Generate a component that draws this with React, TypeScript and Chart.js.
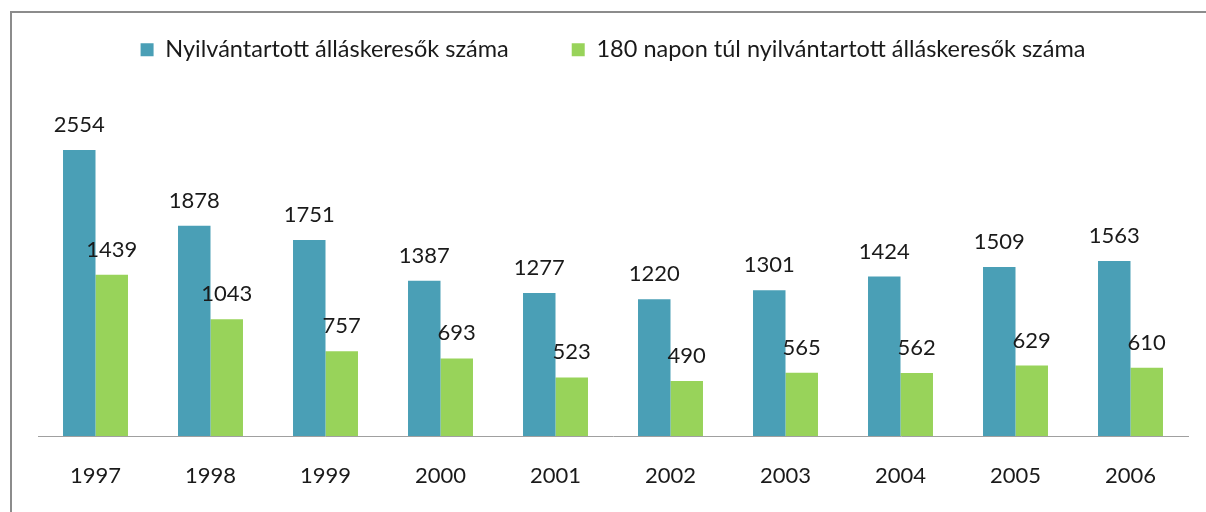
import React, { useEffect, useRef } from "react";
import { Chart, registerables } from "chart.js";

Chart.register(...registerables);

const categories = ["1997", "1998", "1999", "2000", "2001", "2002", "2003", "2004", "2005", "2006"];
const seriesNames = ["Nyilvántartott álláskeresők száma", "180 napon túl nyilvántartott álláskeresők száma"];
const registered = [2554, 1878, 1751, 1387, 1277, 1220, 1301, 1424, 1509, 1563];
const over180 = [1439, 1043, 757, 693, 523, 490, 565, 562, 629, 610];

const FONT = "Lato, 'Liberation Sans', sans-serif";

const valueLabels = {
  id: "valueLabels",
  afterDatasetsDraw(chart: any) {
    const ctx = chart.ctx;
    ctx.save();
    ctx.font = `22px ${FONT}`;
    ctx.fillStyle = "#1a1a1a";
    ctx.textAlign = "center";
    ctx.textBaseline = "alphabetic";
    chart.data.datasets.forEach((ds: any, i: number) => {
      const meta = chart.getDatasetMeta(i);
      meta.data.forEach((el: any, j: number) => {
        ctx.fillText(String(ds.data[j]), el.x, el.y - 18);
      });
    });
    ctx.restore();
  },
};

const legendSpacing = {
  id: "legendSpacing",
  beforeInit(chart: any) {
    const legend = chart.legend;
    if (!legend) return;
    const origFit = legend.fit;
    legend.fit = function () {
      origFit.bind(legend)();
      this.height = 125;
    };
  },
};

export default function App() {
  const ref = useRef<HTMLCanvasElement | null>(null);
  useEffect(() => {
    document.body.style.margin = "0";
    const chart = new Chart(ref.current!, {
      type: "bar",
      data: {
        labels: categories,
        datasets: [
          {
            label: seriesNames[0],
            data: registered,
            backgroundColor: "#4a9fb6",
            borderWidth: 0,
          },
          {
            label: seriesNames[1],
            data: over180,
            backgroundColor: "#98d35a",
            borderWidth: 0,
          },
        ],
      },
      options: {
        animation: false,
        responsive: false,
        layout: { padding: { left: 38, right: 18, top: -25, bottom: 26 } },
        datasets: {
          bar: { categoryPercentage: 0.565, barPercentage: 1 },
        },
        plugins: {
          legend: {
            position: "top",
            labels: {
              boxWidth: 13,
              boxHeight: 13,
              padding: 63,
              color: "#1a1a1a",
              font: { family: FONT, size: 23.5 },
            },
          },
          tooltip: { enabled: false },
        },
        scales: {
          x: {
            grid: { display: false, drawTicks: false },
            border: { display: true, color: "#a0a0a0", width: 1 },
            ticks: { color: "#1a1a1a", font: { family: FONT, size: 22 }, padding: 27 },
            afterFit(scale: any) {
              scale.height = 50;
            },
          },
          y: {
            display: false,
            min: 0,
            max: 3000,
          },
        },
      },
      plugins: [valueLabels, legendSpacing],
    });
    return () => chart.destroy();
  }, []);
  return (
    <div style={{ position: "relative", width: 1206, height: 512, overflow: "hidden", background: "#fff" }}>
      <div
        style={{
          position: "absolute",
          left: 10,
          top: 11,
          width: 1400,
          height: 600,
          borderLeft: "2px solid #8c8c8c",
          borderTop: "2px solid #8c8c8c",
        }}
      />
      <canvas ref={ref} width={1206} height={512} style={{ position: "absolute", left: 0, top: 0 }} />
    </div>
  );
}
